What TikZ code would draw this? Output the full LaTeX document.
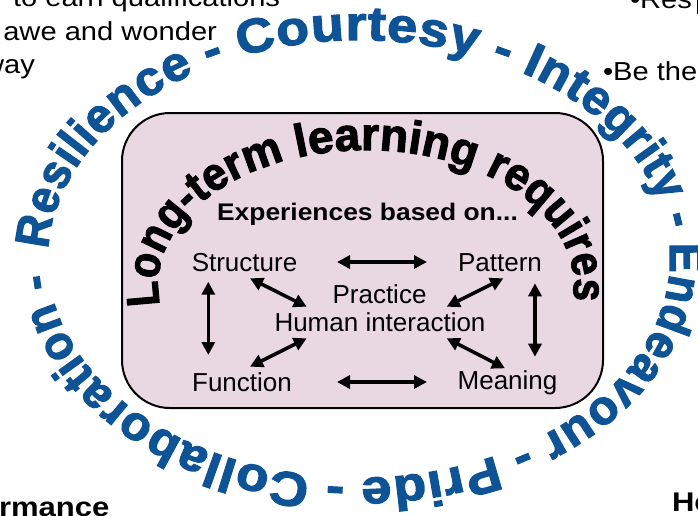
\documentclass[tikz,border=0pt]{standalone}
\usepackage{fontspec}
\setmainfont{Liberation Sans}
\newfontfamily\heavyfam{Liberation Sans}[BoldFeatures={FakeBold=2.5}]
\usetikzlibrary{arrows.meta}
\definecolor{ringblue}{RGB}{13,83,150}
\definecolor{boxpink}{RGB}{233,215,225}

\newcount\chidx
\newcommand\ringfont{\heavyfam\bfseries\fontsize{48pt}{48pt}\selectfont}
\newcommand\archfont{\heavyfam\bfseries\fontsize{46pt}{46pt}\selectfont}
\newcommand\archlist{L,o,n,g,-,t,e,r,m,\ ,l,e,a,r,n,i,n,g,\ ,r,e,q,u,i,r,e,s}
\newcommand\ringlist{R,e,s,i,l,i,e,n,c,e,\ ,-,\ ,C,o,u,r,t,e,s,y,\ ,-,\ ,I,n,t,e,g,r,i,t,y,\ ,-,\ ,E,n,d,e,a,v,o,u,r,\ ,-,\ ,P,r,i,d,e,\ ,-,\ ,C,o,l,l,a,b,o,r,a,t,i,o,n,\ ,-,\ }
\newcommand\Pspeed[1]{(100*veclen(\Pa/100*sin(#1),\Pb/100*cos(#1)))}
\makeatletter
\newcommand\measurelist[3]{%
  \global\chidx=0\relax
  \@for\cchar:=#3\do{%
    \global\advance\chidx by 1\relax
    \setbox0=\hbox{#2\cchar}%
    \expandafter\xdef\csname cw@#1@\the\chidx\endcsname{\strip@pt\wd0}%
  }%
}
\newcommand\curvetext[3]{%
  \xdef\tcur{\Pstart}%
  \global\chidx=0\relax
  \@for\cchar:=#3\do{%
    \global\advance\chidx by 1\relax
    \edef\curw{\csname cw@#1@\the\chidx\endcsname}%
    \pgfmathsetmacro\tc{\tcur-28.6479*\curw*\Psx{\tcur}/\Pspeed{\tcur}}%
    \pgfmathsetmacro\tn{\tcur-57.2958*\curw*\Psx{\tc}/\Pspeed{\tc}}%
    \xdef\tcur{\tn}%
  }%
  \pgfmathsetmacro\gfac{\Pspan/(\Pstart-\tcur)}%
  \xdef\gfac{\gfac}%
  \xdef\tcur{\Pstart}%
  \global\chidx=0\relax
  \@for\cchar:=#3\do{%
    \global\advance\chidx by 1\relax
    \edef\curw{\csname cw@#1@\the\chidx\endcsname}%
    \pgfmathsetmacro\tc{\tcur-\gfac*28.6479*\curw*\Psx{\tcur}/\Pspeed{\tcur}}%
    \pgfmathsetmacro\tn{\tcur-\gfac*57.2958*\curw*\Psx{\tc}/\Pspeed{\tc}}%
    \pgfmathsetmacro\sx{\Psx{\tc}}%
    \pgfmathsetmacro\sy{\Psy{\tc}}%
    \pgfmathsetmacro\rot{atan2(-\Pb*cos(\tc),\Pa*sin(\tc))}%
    \pgfmathsetmacro\px{\Pcx+\Pa*cos(\tc)}%
    \pgfmathsetmacro\py{\Pcy+\Pb*sin(\tc)}%
    \node[#2, anchor=base, rotate=\rot, xscale=\sx, yscale=\sy] (#1\the\chidx) at (\px,\py) {\cchar};%
    \xdef\tcur{\tn}%
  }%
}
\makeatother

\tikzset{
  ringchar/.style={font=\ringfont, text=ringblue, inner sep=0pt, outer sep=0pt},
  archchar/.style={font=\archfont, text=black, inner sep=0pt, outer sep=0pt},
  lbl/.style={font=\fontsize{26pt}{30pt}\selectfont, inner sep=0pt, outer sep=0pt},
  headlbl/.style={font=\bfseries\fontsize{24pt}{28pt}\selectfont, inner sep=0pt, outer sep=0pt, xscale=1.1},
  side/.style={font=\fontsize{26pt}{30pt}\selectfont, inner sep=0pt, outer sep=0pt, xscale=1.12},
  sidebold/.style={font=\bfseries\fontsize{27pt}{30pt}\selectfont, inner sep=0pt, outer sep=0pt, xscale=1.15},
  panel/.style={draw=black, line width=2pt, fill=boxpink, rounded corners=48pt},
  arr/.style={line width=3.5pt, >={Triangle[length=13pt,width=13pt]}, <->},
}

\begin{document}
\measurelist{arch}{\archfont}{\archlist}%
\measurelist{ring}{\ringfont}{\ringlist}%
\begin{tikzpicture}[x=1pt,y=1pt]
\useasboundingbox (0,0) rectangle (698,-515);
\clip (0,0) rectangle (698,-515);

% surrounding (cut) text
\node[side, anchor=base west] (t1) at (13,-6) {to earn qualifications};
\node[side, anchor=base west] (t2) at (3.3,-40) {awe and wonder};
\node[side, anchor=base east] (t3) at (35,-73) {way};
\node[side, anchor=base west] (t4) at (630,-8) {•Res};
\coordinate (cur1) at (697,0);
\coordinate (cur2) at (697,-14);
\draw[line width=0.8pt] (cur1) -- (cur2);
\node[side, anchor=base west] (t5) at (603,-80) {•Be the};
\node[sidebold, anchor=base west] (t6) at (-1,-516) {rmance};
\node[sidebold, anchor=base west] (t7) at (672,-511) {He};

% panel
\draw[panel] (122,-113) rectangle (603,-408);

% arch text
\def\Pcx{366}\def\Pcy{-285}\def\Pa{208}\def\Pb{135}
\def\Pstart{188.5}\def\Pspan{194.9}
\def\Psx#1{(0.88+0.12*sin(#1)*sin(#1))}
\def\Psy#1{1}
\curvetext{arch}{archchar}{\archlist}

% labels
\node[headlbl, anchor=base] (e) at (367.5,-220) {Experiences based on...};
\node[lbl, anchor=base] (s) at (244.5,-271) {Structure};
\node[lbl, anchor=base] (p) at (500,-271.5) {Pattern};
\node[lbl, anchor=base] (pr) at (379.5,-303) {Practice};
\node[lbl, anchor=base] (h) at (380,-331.5) {Human interaction};
\node[lbl, anchor=base] (f) at (242,-391) {Function};
\node[lbl, anchor=base] (m) at (507.5,-389) {Meaning};

% arrows
\draw[arr] ([shift={(92.5,9)}]s.base) -- ([shift={(-73,9.5)}]p.base);
\draw[arr] ([shift={(95,9)}]f.base) -- ([shift={(-80.5,7)}]m.base);
\draw[arr] ([shift={(-36.2,-10.7)}]s.base) -- ([shift={(-33.7,36)}]f.base);
\draw[arr] ([shift={(35,-11.8)}]p.base) -- ([shift={(27.5,32.3)}]m.base);
\draw[arr] ([shift={(5.5,-7.3)}]s.base) -- ([shift={(-73.3,24.8)}]h.base);
\draw[arr] ([shift={(3.3,-6.8)}]p.base) -- ([shift={(66.7,24.8)}]h.base);
\draw[arr] ([shift={(-73.3,-6.8)}]h.base) -- ([shift={(8,24.3)}]f.base);
\draw[arr] ([shift={(66.7,-6.8)}]h.base) -- ([shift={(-2.5,20.7)}]m.base);

% outer ring text
\def\Pcx{359}\def\Pcy{-259}\def\Pa{311}\def\Pb{219}
\def\Pstart{177.6}\def\Pspan{356}
\def\Psx#1{(0.92+0.2*sin(#1)*sin(#1))}
\def\Psy#1{1}
\curvetext{ring}{ringchar}{\ringlist}
\end{tikzpicture}
\end{document}
